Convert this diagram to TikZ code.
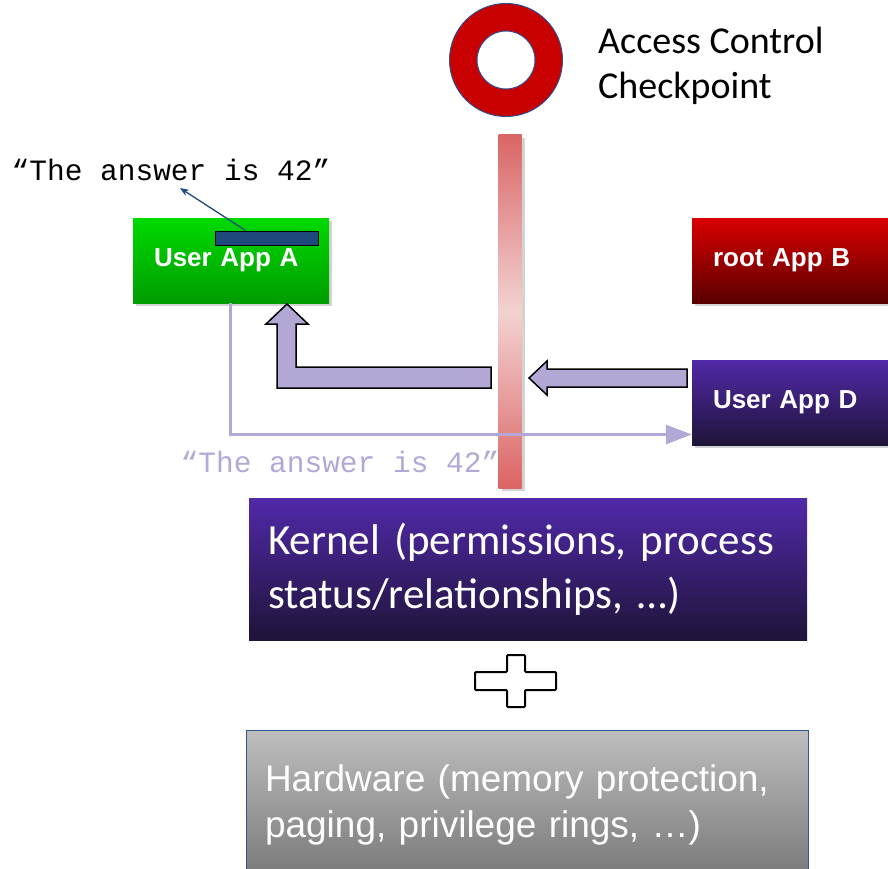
\documentclass[tikz,border=0pt]{standalone}
\usepackage{fontspec}
\newfontfamily\calfont{Carlito}
\newfontfamily\arialfont{Liberation Sans}
\newfontfamily\codefont{Liberation Mono}
\usetikzlibrary{calc, arrows.meta, shadows}

\definecolor{ringred}{HTML}{C80000}
\definecolor{ringedge}{HTML}{2F4F8F}
\definecolor{lavender}{HTML}{B3A7D6}
\definecolor{barblue}{HTML}{1F497D}
\definecolor{greentop}{HTML}{00DA00}
\definecolor{greenbot}{HTML}{009C00}
\definecolor{redtop}{HTML}{DA0000}
\definecolor{redbot}{HTML}{5A0000}
\definecolor{purpletop}{HTML}{5129A9}
\definecolor{purplebot}{HTML}{1E1438}
\definecolor{greytop}{HTML}{BEBEBE}
\definecolor{greybot}{HTML}{777777}
\definecolor{hwedge}{HTML}{2F5597}
\definecolor{poletop}{HTML}{D96666}
\definecolor{polemid}{HTML}{F3D2D2}
\definecolor{polebot}{HTML}{DC6464}

\begin{document}
\begin{tikzpicture}[x=1pt,y=-1pt,
    softshadow/.style={drop shadow={opacity=0.35, shadow xshift=3pt, shadow yshift=-3pt}},
    appbox/.style={softshadow, minimum width=196pt, minimum height=85pt, inner xsep=21pt,
        text width=154pt, align=left, text=white, font=\arialfont\bfseries\fontsize{26}{30}\selectfont},
    codetext/.style={inner sep=0pt, font=\codefont\fontsize{29.5}{34}\selectfont},
    blockarrow/.style={fill=lavender, draw=black, line width=1.5pt, line join=miter}]
    \clip (0,0) rectangle (888,869);

    % checkpoint
    \node[circle, fill=ringred, draw=ringedge, line width=1pt, minimum size=113pt] (ring) at (506,60) {};
    \node[circle, fill=white, draw=ringedge, line width=1pt, minimum size=58pt] (hole) at (ring) {};
    \node[anchor=west, align=left, inner sep=0pt, font=\calfont\fontsize{38}{45}\selectfont] (checklabel) at (598,66) {Access Control\\Checkpoint};
    \node[softshadow, inner sep=0pt, minimum width=23pt, minimum height=353pt,
        top color=poletop, bottom color=polebot, middle color=polemid] (pole) at (510,311.5) {};

    % apps
    \node[codetext] (quoteA) at (171,170) {“The answer is 42”};
    \node[appbox, top color=greentop, bottom color=greenbot] (appA) at (231,260.5) {User App A};
    \node[draw=black, line width=1pt, fill=barblue, minimum width=103pt, minimum height=14pt, inner sep=0pt] (buffer) at (266.5,238) {};
    \draw[-{Stealth[length=9pt,width=7pt]}, barblue, line width=1.3pt] ([xshift=-21pt]buffer.north) -- ([xshift=9pt,yshift=-7pt]quoteA.south);
    \node[appbox, top color=redtop, bottom color=redbot] (appB) at (790,260.5) {root App B};
    \node[appbox, top color=purpletop, bottom color=purplebot] (appD) at (790,402.5) {User App D};

    % requests through the checkpoint
    \draw[blockarrow] (491,367) -- (296,367) -- (296,324) -- (308,324) -- (287,304) -- (266,324) -- (277,324) -- (277,388) -- (491,388) -- cycle;
    \draw[blockarrow] (687,369) -- (547,369) -- (547,361) -- (529,378) -- (547,395) -- (547,387) -- (687,387) -- cycle;
    \coordinate (leakx) at (230,0);
    \draw[lavender, line width=3pt, -{Triangle[length=26pt,width=19pt]}] (appA.south -| leakx) |- ([yshift=-32pt]appD.west);
    \node[codetext, text=lavender] (quoteB) at (340,462) {“The answer is 42”};

    % layers
    \node[inner xsep=19pt, minimum width=558pt, minimum height=142pt, text width=520pt, align=left,
        top color=purpletop, bottom color=purplebot, text=white,
        font=\calfont\fontsize{43}{54}\selectfont] (kernel) at (528,569.5) {Kernel (permissions, process\\status/relationships, …)};
    \draw[line width=2pt, fill=white, rounded corners=1pt] (507,655) -- (525,655) -- (525,672) -- (556,672) -- (556,690) -- (525,690) -- (525,707) -- (507,707) -- (507,690) -- (475,690) -- (475,672) -- (507,672) -- cycle;
    \node[draw=hwedge, line width=1pt, inner xsep=19pt, minimum width=562pt, minimum height=150pt, text width=524pt, align=left,
        top color=greytop, bottom color=greybot, text=white,
        font=\arialfont\fontsize{37}{46}\selectfont] (hardware) at (527,805) {Hardware (memory protection,\\paging, privilege rings, …)};
\end{tikzpicture}
\end{document}
